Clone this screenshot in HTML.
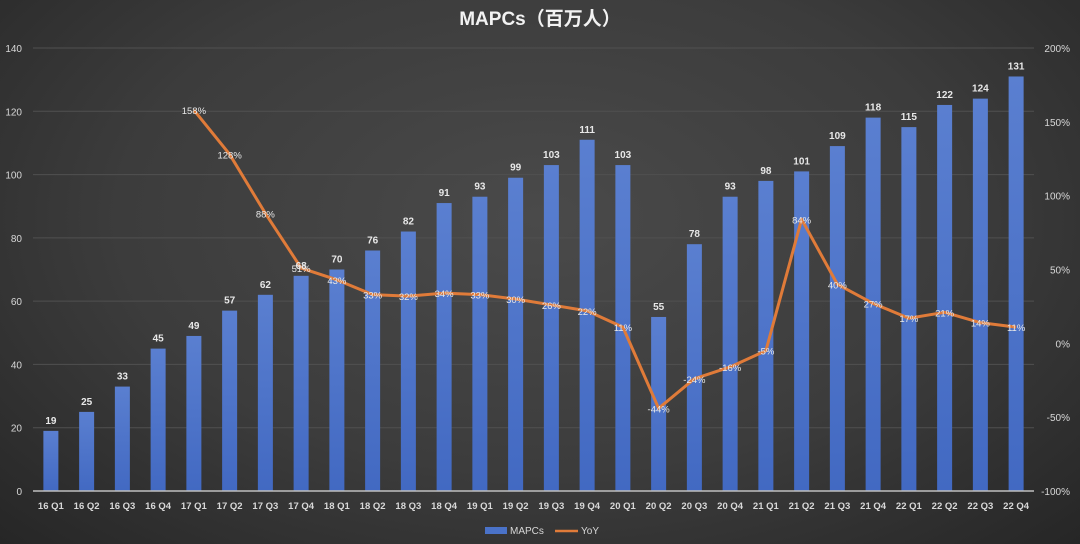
<!DOCTYPE html>
<html><head><meta charset="utf-8"><style>
body{margin:0;width:1080px;height:544px;overflow:hidden;background:radial-gradient(ellipse at 50% 40%,#4a4a4a 0%,#3c3c3c 55%,#262626 100%);font-family:"Liberation Sans","Noto Sans CJK SC",sans-serif;}
svg{position:absolute;left:0;top:0}
</style></head><body>
<svg width="1080" height="544">
<defs><linearGradient id="bg" x1="0" y1="0" x2="0" y2="1"><stop offset="0" stop-color="#5a7fd0"/><stop offset="1" stop-color="#4269c2"/></linearGradient></defs>
<text x="540" y="25" text-anchor="middle" fill="#f2f2f2" font-size="19" font-weight="bold">MAPCs（百万人）</text>
<g id="grid"></g><g id="bars"></g><g id="line"></g><g id="labels"></g><g id="axes"></g>
<g>
<rect x="485" y="527" width="22" height="7" fill="#4a72c8"/>
<text x="510" y="534" fill="#d8d8d8" font-size="10">MAPCs</text>
<line x1="555" y1="531" x2="578" y2="531" stroke="#e07b39" stroke-width="2.5"/>
<text x="581" y="534" fill="#d8d8d8" font-size="10">YoY</text>
</g>
</svg>
<script>
const categories=["16 Q1","16 Q2","16 Q3","16 Q4","17 Q1","17 Q2","17 Q3","17 Q4","18 Q1","18 Q2","18 Q3","18 Q4","19 Q1","19 Q2","19 Q3","19 Q4","20 Q1","20 Q2","20 Q3","20 Q4","21 Q1","21 Q2","21 Q3","21 Q4","22 Q1","22 Q2","22 Q3","22 Q4"];
const mapcs=[19,25,33,45,49,57,62,68,70,76,82,91,93,99,103,111,103,55,78,93,98,101,109,118,115,122,124,131];
const yoy=[null,null,null,null,158,128,88,51,43,33,32,34,33,30,26,22,11,-44,-24,-16,-5,84,40,27,17,21,14,11];
const leftTicks=[0,20,40,60,80,100,120,140];
const rightTicks=[-100,-50,0,50,100,150,200];
const NS="http://www.w3.org/2000/svg";
const X0=33,X1=1034,Y0=491,Y1=48;
const band=(X1-X0)/categories.length;
const xc=i=>X0+band*(i+0.5);
const yl=v=>Y0-(v/140)*(Y0-Y1);
const yr=v=>Y0-((v+100)/300)*(Y0-Y1);
function mk(t,a,p,txt){const e=document.createElementNS(NS,t);for(const k in a)e.setAttribute(k,a[k]);if(txt!=null)e.textContent=txt;p.appendChild(e);return e;}
const G=id=>document.getElementById(id);
leftTicks.forEach(v=>{
  if(v>0){const l=mk('line',{x1:X0,x2:X1,y1:yl(v),y2:yl(v),stroke:'#505050','stroke-width':1},G('grid'));
  
  }
  const t=mk('text',{x:22,y:yl(v)+4,'text-anchor':'end',fill:'#d8d8d8','font-size':10},G('axes'),v);
  
  
});
rightTicks.forEach(v=>{
  const t=mk('text',{x:1070,y:yr(v)+4,'text-anchor':'end',fill:'#d8d8d8','font-size':10},G('axes'),v+'%');
  
  
});
const base=mk('line',{x1:X0,x2:X1,y1:Y0,y2:Y0,stroke:'#bfbfbf','stroke-width':1.5},G('axes'));


categories.forEach((c,i)=>{
  const t=mk('text',{x:xc(i),y:509,'text-anchor':'middle',fill:'#d8d8d8','font-size':9.5,'font-weight':'bold'},G('axes'),c);
  
  
  const v=mapcs[i];
  const r=mk('rect',{x:xc(i)-7.5,y:yl(v),width:15,height:Y0-yl(v),fill:'url(#bg)'},G('bars'));
  
  
  const lb=mk('text',{x:xc(i),y:yl(v)-7,'text-anchor':'middle',fill:'#e8e8e8','font-size':10,'font-weight':'bold'},G('labels'),v);
  
  
});
let d='';
yoy.forEach((v,i)=>{if(v==null)return;d+=(d?'L':'M')+xc(i)+','+yr(v);});
const p1=mk('path',{d:d,fill:'none',stroke:'#e07b39','stroke-width':3,'stroke-linejoin':'round'},G('line'));


yoy.forEach((v,i)=>{if(v==null)return;
  const t=mk('text',{x:xc(i),y:yr(v)+4,'text-anchor':'middle',fill:'#e8e8e8','font-size':9.5},G('labels'),v+'%');
  
  
});
</script>
</body></html>
